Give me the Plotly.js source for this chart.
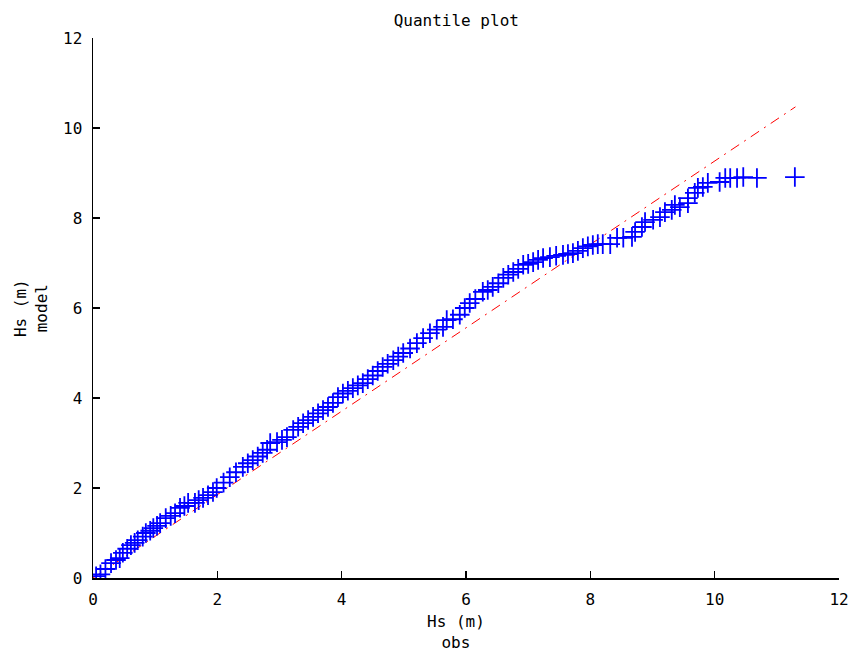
<!DOCTYPE html>
<html>
<head>
<meta charset="utf-8">
<script src="https://cdn.plot.ly/plotly-3.0.1.min.js"></script>
<style>html,body{margin:0;padding:0;background:#fff;}#chart{width:853px;height:651px;}</style>
</head>
<body>
<div id="chart"></div>
<script>
// Quantiles: observed Hs (m) vs model Hs (m)
var obsQ = [0.05,0.12,0.2,0.29,0.37,0.43,0.48,0.55,0.61,0.67,0.72,0.8,0.85,0.92,0.97,1.03,1.08,1.17,1.25,1.32,1.4,1.47,1.53,1.64,1.7,1.77,1.85,1.93,1.99,2.1,2.2,2.3,2.41,2.49,2.57,2.65,2.73,2.8,2.85,2.96,3.04,3.12,3.22,3.3,3.38,3.46,3.54,3.62,3.7,3.78,3.86,3.94,4.02,4.1,4.18,4.26,4.34,4.42,4.5,4.58,4.66,4.74,4.83,4.91,4.99,5.1,5.21,5.31,5.42,5.53,5.63,5.69,5.79,5.9,5.98,6.06,6.15,6.27,6.35,6.43,6.52,6.6,6.68,6.76,6.84,6.92,7.0,7.08,7.16,7.24,7.35,7.45,7.56,7.64,7.72,7.8,7.88,7.96,8.04,8.12,8.2,8.32,8.43,8.53,8.67,8.72,8.83,8.88,9.01,9.12,9.2,9.31,9.36,9.44,9.57,9.57,9.68,9.73,9.81,9.89,10.08,10.17,10.25,10.36,10.46,10.68,11.29];
var modelQ = [0.04,0.08,0.2,0.33,0.4,0.44,0.56,0.65,0.73,0.78,0.84,0.92,1.0,1.05,1.11,1.16,1.22,1.33,1.38,1.44,1.56,1.6,1.67,1.67,1.73,1.78,1.84,1.91,2.0,2.12,2.24,2.35,2.47,2.55,2.62,2.7,2.78,2.85,3.0,3.02,3.07,3.13,3.29,3.36,3.44,3.51,3.58,3.66,3.73,3.8,3.89,4.02,4.1,4.16,4.22,4.28,4.33,4.42,4.5,4.6,4.69,4.76,4.84,4.92,5.0,5.1,5.22,5.33,5.44,5.52,5.58,5.73,5.75,5.85,6.0,6.11,6.2,6.36,6.4,6.47,6.55,6.67,6.74,6.8,6.87,6.96,6.98,7.02,7.07,7.11,7.13,7.16,7.18,7.2,7.22,7.27,7.33,7.37,7.4,7.42,7.42,7.42,7.56,7.56,7.58,7.69,7.8,7.91,7.96,8.02,8.13,8.18,8.29,8.24,8.33,8.44,8.56,8.67,8.69,8.78,8.8,8.89,8.89,8.89,8.91,8.89,8.91];
// Fitted line
var fitX = [0, 11.3];
var fitY = [0, 10.47];
var tickVals = [0,2,4,6,8,10,12];
var tickText = ["0","2","4","6","8","10","12"];

var FONT = "DejaVu Sans Mono, DejaVu Sans, monospace";

var traces = [
  {x: fitX, y: fitY, type: 'scatter', mode: 'lines',
   line: {color: '#ff0000', width: 1, dash: '10px,6px,2px,6px'}, hoverinfo: 'skip'},
  {x: obsQ, y: modelQ, type: 'scatter', mode: 'markers',
   marker: {symbol: 'cross-thin-open', size: 14, color: '#0000ff', line: {color: '#0000ff', width: 1.8}}}
];

var axisCommon = {
  range: [0, 12], tickvals: tickVals, ticktext: tickText,
  showgrid: false, zeroline: false, showline: true, linecolor: '#000', linewidth: 1.5,
  ticks: 'inside', ticklen: 7, tickwidth: 1.5, tickcolor: '#000',
  tickfont: {family: FONT, size: 16, color: '#000'}, mirror: false, fixedrange: true
};

var layout = {
  width: 853, height: 651,
  margin: {l: 93, r: 14, t: 38, b: 73},
  paper_bgcolor: '#fff', plot_bgcolor: '#fff',
  showlegend: false,
  font: {family: FONT, color: '#000', size: 16},
  title: {text: 'Quantile plot', font: {family: FONT, size: 16, color: '#000'},
          xref: 'paper', x: 0.487, xanchor: 'center', yref: 'container', y: 0.969, yanchor: 'middle'},
  xaxis: Object.assign({}, axisCommon, {ticklabelstandoff: 6}),
  yaxis: Object.assign({}, axisCommon, {ticklabelstandoff: 6}),
  annotations: [
    {text: 'Hs (m)<br>obs', xref: 'paper', yref: 'paper', x: 0.487, y: -0.06, xanchor: 'center', yanchor: 'top',
     showarrow: false, font: {family: FONT, size: 16, color: '#000'}},
    {text: 'Hs (m)<br>model', xref: 'paper', yref: 'paper', x: -0.083, y: 0.5, xanchor: 'center', yanchor: 'middle',
     textangle: -90, showarrow: false, font: {family: FONT, size: 16, color: '#000'}}
  ]
};

Plotly.newPlot('chart', traces, layout, {displayModeBar: false, staticPlot: true});
</script>
</body>
</html>
